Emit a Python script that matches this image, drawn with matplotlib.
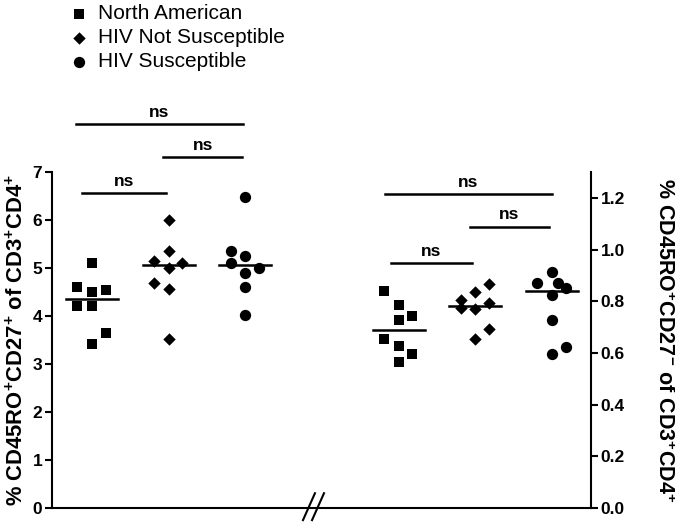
import numpy as np
import matplotlib
matplotlib.use('Agg')
import matplotlib.pyplot as plt

plt.rcParams['font.family'] = ['Liberation Sans', 'DejaVu Sans']
plt.rcParams['mathtext.fontset'] = 'custom'
plt.rcParams['mathtext.rm'] = 'Liberation Sans:bold'
plt.rcParams['mathtext.bf'] = 'Liberation Sans:bold'

groups = ['North American', 'HIV Not Susceptible', 'HIV Susceptible']
markers = ['s', 'D', 'o']
msizes = [46, 40, 66]

# left panel: % CD45RO+CD27+ (left axis)
left_pos = [1, 2, 3]
left_vals = [
    [5.11, 4.61, 4.51, 4.55, 4.21, 4.21, 3.64, 3.42],
    [6.00, 5.36, 5.15, 5.11, 5.01, 4.69, 4.56, 3.53],
    [6.47, 5.35, 5.24, 5.11, 5.01, 4.90, 4.61, 4.03],
]
left_jit = [
    [0, -0.19, 0, 0.18, -0.19, 0, 0.18, 0],
    [0, 0, -0.19, 0.18, 0, -0.19, 0, 0],
    [0, -0.19, 0, -0.19, 0.18, 0, 0, 0],
]

# right panel: % CD45RO+CD27- (right axis)
right_pos = [5, 6, 7]
right_vals = [
    [0.838, 0.784, 0.743, 0.726, 0.655, 0.627, 0.594, 0.564],
    [0.866, 0.834, 0.805, 0.792, 0.775, 0.769, 0.694, 0.652],
    [0.915, 0.869, 0.869, 0.853, 0.823, 0.726, 0.624, 0.594],
]
right_jit = [
    [-0.19, 0, 0.18, 0, -0.19, 0, 0.18, 0],
    [0.18, 0, -0.19, 0.18, -0.19, 0, 0.18, 0],
    [0, -0.19, 0.08, 0.18, 0, 0, 0.18, 0],
]

# significance brackets: (x start, x end, y)
left_sig = [(0.79, 2.97, 7.99), (1.93, 2.96, 7.31), (0.87, 1.96, 6.56)]
right_sig = [(4.82, 7.00, 1.216), (5.93, 6.96, 1.089), (4.90, 5.96, 0.948)]

fig = plt.figure(figsize=(6.75, 5.26), dpi=100)
ax = fig.add_axes([0.077, 0.0342, 0.7985, 0.6388])
ax2 = ax.twinx()

handles = []
for i in range(3):
    h = ax.scatter(np.array(left_jit[i]) + left_pos[i], left_vals[i], marker=markers[i],
                   s=msizes[i], color='black', linewidths=0, label=groups[i], zorder=3)
    handles.append(h)
    ax.plot([left_pos[i] - 0.34, left_pos[i] + 0.34], [np.median(left_vals[i])] * 2,
            color='black', lw=1.8, zorder=2)
    ax2.scatter(np.array(right_jit[i]) + right_pos[i], right_vals[i], marker=markers[i],
                s=msizes[i], color='black', linewidths=0, zorder=3)
    ax2.plot([right_pos[i] - 0.34, right_pos[i] + 0.34], [np.median(right_vals[i])] * 2,
             color='black', lw=1.8, zorder=2)

for a, sig in ((ax, left_sig), (ax2, right_sig)):
    for x0, x1, y in sig:
        a.plot([x0, x1], [y, y], color='black', lw=1.8, clip_on=False)
        a.annotate('ns', ((x0 + x1) / 2, y), xytext=(0, 3), textcoords='offset points',
                   ha='center', va='bottom', fontsize=12.5, fontweight='bold',
                   annotation_clip=False)

ax.set_xlim(0.478, 7.51)
ax.set_ylim(0, 7)
ax2.set_ylim(0, 1.3)
ax.set_xticks([])
ax.set_yticks(range(8))
ax2.set_yticks(np.arange(0, 1.21, 0.2))
ax2.set_yticklabels([f'{v:.1f}' for v in np.arange(0, 1.21, 0.2)])

for s in ['top', 'right']:
    ax.spines[s].set_visible(False)
for s in ['top', 'left', 'bottom']:
    ax2.spines[s].set_visible(False)
ax.spines['left'].set_linewidth(1.5)
ax.spines['bottom'].set_linewidth(1.5)
ax2.spines['right'].set_linewidth(1.5)
for a in (ax, ax2):
    a.tick_params(axis='y', direction='out', length=5, width=1.5, labelsize=12.5, pad=2)
    for t in a.get_yticklabels():
        t.set_fontweight('bold')

# axis break on the x axis
brk = 3.89
trans = ax.get_xaxis_transform()
for dx in (-0.059, 0.059):
    ax.plot([brk + dx - 0.078, brk + dx + 0.078], [-0.036, 0.044], transform=trans,
            color='black', lw=1.5, clip_on=False)

ax.set_ylabel(r'% CD45RO$^{+}$CD27$^{+}$ of CD3$^{+}$CD4$^{+}$', fontsize=15.8,
              fontweight='bold', labelpad=3)
ax2.set_ylabel(r'% CD45RO$^{+}$CD27$^{-}$ of CD3$^{+}$CD4$^{+}$', fontsize=15.5,
               fontweight='bold', rotation=270, va='bottom', labelpad=20)

fig.legend(handles=handles, loc='upper left', bbox_to_anchor=(0.102, 0.992), frameon=False,
           fontsize=15, handlelength=1.0, handletextpad=0.4, labelspacing=0.24,
           borderpad=0, borderaxespad=0, scatterpoints=1)

fig.savefig('out.png', dpi=100)
